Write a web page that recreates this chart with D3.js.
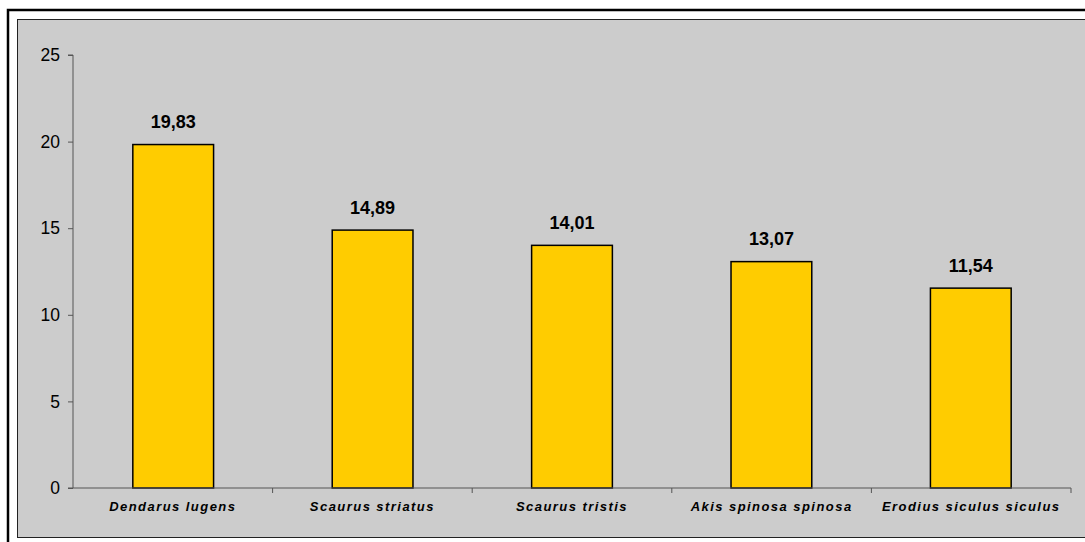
<!DOCTYPE html>
<html><head><meta charset="utf-8">
<script src="https://cdn.jsdelivr.net/npm/d3@7"></script>
<style>body{margin:0;background:#fff;}svg{display:block;}</style>
</head><body>
<script>
const categories = ["Dendarus lugens","Scaurus striatus","Scaurus tristis","Akis spinosa spinosa","Erodius siculus siculus"];
const values = [19.83, 14.89, 14.01, 13.07, 11.54];
const valueLabels = ["19,83","14,89","14,01","13,07","11,54"];
const yTicks = [0,5,10,15,20,25];

const W = 1085, H = 542;
const svg = d3.select("body").append("svg").attr("width", W).attr("height", H);

// outer frame
svg.append("rect").attr("x",8).attr("y",10).attr("width",1090).attr("height",545)
  .attr("fill","#fff").attr("stroke","#000").attr("stroke-width",2.5);
// plot area
svg.append("rect").attr("x",17.5).attr("y",19.5).attr("width",1080).attr("height",518)
  .attr("fill","#cccccc").attr("stroke","#222").attr("stroke-width",1);

const x0 = 73, x1 = 1071, y0 = 488, y1 = 55;
const x = d3.scaleBand().domain(categories).range([x0, x1]).paddingInner(0.595).paddingOuter(0.3);
const y = d3.scaleLinear().domain([0,25]).range([y0, y1]);

// y axis
const yAxis = svg.append("g").attr("transform",`translate(${x0},0)`)
  .call(d3.axisLeft(y).tickValues(yTicks).tickSize(5).tickPadding(8).tickFormat(d3.format("d")));
yAxis.select(".domain").attr("stroke","#555").attr("d",`M-5,${y1}H0V${y0}H-5`);
yAxis.selectAll(".tick line").attr("stroke","#555");
yAxis.selectAll("text").attr("font-family","Liberation Sans, Arial, sans-serif").attr("font-size",17.5).attr("fill","#000");

// bars
svg.append("g").selectAll("rect").data(values).join("rect")
  .attr("x",(d,i)=>x(categories[i])).attr("width",x.bandwidth())
  .attr("y",d=>y(d)).attr("height",d=>y0-y(d))
  .attr("fill","#ffcc00").attr("stroke","#000").attr("stroke-width",1.5);

// x axis
const band = (x1-x0)/categories.length;
const xAxis = svg.append("g").attr("transform",`translate(0,${y0})`);
xAxis.append("path").attr("d",`M${x0},0H${x1}V5`).attr("stroke","#555").attr("fill","none");
xAxis.selectAll("line").data(d3.range(1,categories.length)).join("line")
  .attr("x1",i=>x0+i*band).attr("x2",i=>x0+i*band).attr("y1",0).attr("y2",5).attr("stroke","#555");
xAxis.selectAll("text").data(categories).join("text")
  .attr("x",(d,i)=>x0+(i+0.5)*band).attr("y",23)
  .attr("text-anchor","middle").attr("font-family","Liberation Sans, Arial, sans-serif")
  .attr("font-size",13).attr("font-weight","bold").attr("font-style","italic")
  .attr("letter-spacing","1.45px").text(d=>d);

// value labels
svg.append("g").selectAll("text").data(values).join("text")
  .attr("x",(d,i)=>x(categories[i])+x.bandwidth()/2).attr("y",d=>y(d)-16.5)
  .attr("text-anchor","middle").attr("font-family","Liberation Sans, Arial, sans-serif")
  .attr("font-size",18).attr("font-weight","bold").text((d,i)=>valueLabels[i]);
</script>
</body></html>
